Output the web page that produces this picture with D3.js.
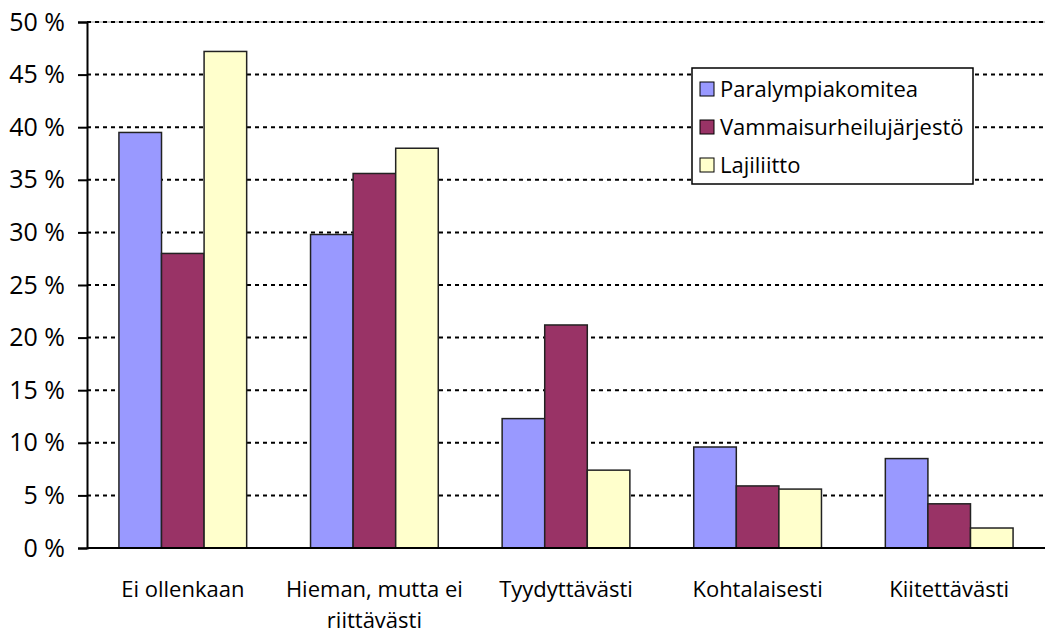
<!DOCTYPE html>
<html>
<head>
<meta charset="utf-8">
<script src="https://cdn.jsdelivr.net/npm/d3@7"></script>
<style>
	body{margin:0;background:#fff;}
	text{font-family:"Open Sans","DejaVu Sans",sans-serif;fill:#000;}
</style>
</head>
<body>
<svg id="chart" width="1046" height="633"></svg>
<script>
var categories = [["Ei ollenkaan"], ["Hieman, mutta ei", "riittävästi"], ["Tyydyttävästi"], ["Kohtalaisesti"], ["Kiitettävästi"]];
var seriesNames = ["Paralympiakomitea", "Vammaisurheilujärjestö", "Lajiliitto"];
var seriesColors = ["#9999ff", "#993366", "#ffffcc"];
var paralympia = [39.5, 29.8, 12.3, 9.6, 8.5];
var vammais = [28.0, 35.6, 21.2, 5.9, 4.2];
var lajiliitto = [47.2, 38.0, 7.4, 5.6, 1.9];
var yTicks = [0, 5, 10, 15, 20, 25, 30, 35, 40, 45, 50];

function drawChart(){
	var allSeries = [paralympia, vammais, lajiliitto];
	var plotLeft = 87, plotRight = 1045, plotTop = 22, plotBottom = 548;
	var svg = d3.select("#chart");

	var x0 = d3.scaleBand().domain(d3.range(categories.length)).range([plotLeft, plotRight]).paddingInner(0).paddingOuter(0);
	// excel gap width 150%: group takes 3/4.5 of category
	var groupW = x0.bandwidth() * 3 / 4.5;
	var x1 = d3.scaleBand().domain(d3.range(3)).range([0, groupW]);
	var y = d3.scaleLinear().domain([0, 50]).range([plotBottom, plotTop]);

	// top border of plot area
	svg.append("line").attr("x1", plotLeft).attr("x2", plotRight).attr("y1", plotTop).attr("y2", plotTop)
		.attr("stroke", "#999").attr("stroke-width", 1);

	// gridlines
	svg.append("g").selectAll("line")
		.data(yTicks.filter(function(d){return d > 0;}))
		.enter().append("line")
		.attr("x1", plotLeft).attr("x2", plotRight)
		.attr("y1", function(d){return y(d);}).attr("y2", function(d){return y(d);})
		.attr("stroke", "#000").attr("stroke-width", 2)
		.attr("stroke-dasharray", "4,4");

	// bars
	var groups = svg.append("g").selectAll("g")
		.data(categories)
		.enter().append("g")
		.attr("transform", function(d, i){return "translate(" + (x0(i) + (x0.bandwidth() - groupW) / 2) + ",0)";});

	groups.selectAll("rect")
		.data(function(d, i){return allSeries.map(function(s, k){return {k: k, v: s[i]};});})
		.enter().append("rect")
		.attr("x", function(d){return x1(d.k);})
		.attr("width", x1.bandwidth())
		.attr("y", function(d){return y(d.v);})
		.attr("height", function(d){return plotBottom - y(d.v);})
		.attr("fill", function(d){return seriesColors[d.k];})
		.attr("stroke", "#222").attr("stroke-width", 1.5);

	// y axis
	var yAxis = d3.axisLeft(y).tickValues(yTicks).tickSize(9).tickPadding(13)
		.tickFormat(function(d){return d + " %";});
	var ya = svg.append("g").attr("transform", "translate(" + plotLeft + ",0)").call(yAxis);
	ya.attr("font-family", null).attr("font-size", null);
	ya.select(".domain").attr("stroke", "#000").attr("stroke-width", 2);
	ya.selectAll(".tick line").attr("stroke", "#000").attr("stroke-width", 2);
	ya.selectAll(".tick text").style("font-size", "25px");

	// x axis line
	svg.append("line").attr("x1", plotLeft).attr("x2", plotRight).attr("y1", plotBottom).attr("y2", plotBottom)
		.attr("stroke", "#000").attr("stroke-width", 2);

	// x labels
	var xl = svg.append("g").selectAll("text")
		.data(categories)
		.enter().append("text")
		.attr("text-anchor", "middle")
		.attr("x", function(d, i){return x0(i) + x0.bandwidth() / 2;})
		.attr("y", 597)
		.style("font-size", "22px");
	xl.selectAll("tspan")
		.data(function(d){return d;})
		.enter().append("tspan")
		.attr("x", function(){return d3.select(this.parentNode).attr("x");})
		.attr("dy", function(d, i){return i === 0 ? 0 : 31;})
		.text(function(d){return d;});

	// legend
	var leg = svg.append("g");
	leg.append("rect").attr("x", 692).attr("y", 68).attr("width", 281).attr("height", 116)
		.attr("fill", "#fff").attr("stroke", "#000").attr("stroke-width", 1.5);
	var items = leg.selectAll("g.item").data(seriesNames).enter().append("g").attr("class", "item")
		.attr("transform", function(d, i){return "translate(700," + (89 + i * 38) + ")";});
	items.append("rect").attr("x", 0).attr("y", -7).attr("width", 14).attr("height", 14)
		.attr("fill", function(d, i){return seriesColors[i];})
		.attr("stroke", "#000").attr("stroke-width", 1);
	items.append("text").attr("x", 20).attr("y", 8).style("font-size", "22px")
		.text(function(d){return d;});
}
drawChart();
</script>
</body>
</html>
